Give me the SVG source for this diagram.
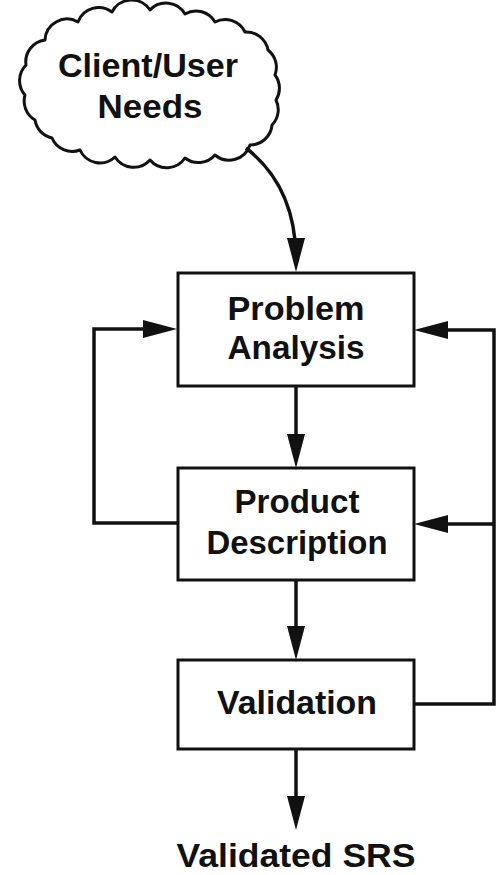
<svg xmlns="http://www.w3.org/2000/svg" width="498" height="875" viewBox="0 0 498 875">
  <style>
    .bg { fill: #ffffff; }
    .box { fill: #ffffff; stroke: #111111; stroke-width: 3; }
    .cloud { fill: #ffffff; stroke: #111111; stroke-width: 3; stroke-linejoin: round; }
    .label { font-family: "Liberation Sans", Arial, Helvetica, sans-serif; font-weight: bold; font-size: 33px; fill: #111111; text-anchor: middle; }
    .wire { fill: none; stroke: #111111; stroke-width: 3.5; stroke-linejoin: miter; }
  </style>
  <defs>
    <marker id="arrow" markerUnits="userSpaceOnUse" markerWidth="34" markerHeight="18" refX="22" refY="9" orient="auto" overflow="visible">
      <path d="M0,0 L34,9 L0,18 Z" fill="#111111"/>
    </marker>
  </defs>

  <rect class="bg" x="0" y="0" width="498" height="875"/>

  <!-- source: client/user needs -->
  <g id="needs">
    <path class="cloud" d="M45,40 A22,22 0 0 1 78,22 A22,22 0 0 1 112,12 A22,22 0 0 1 150,10 A22,22 0 0 1 185,14 A22,22 0 0 1 215,22 A22,22 0 0 1 245,32 A22,22 0 0 1 268,50 A22,22 0 0 1 275,75 A22,22 0 0 1 276,100 A22,22 0 0 1 272,125 A22,22 0 0 1 250,145 A22,22 0 0 1 215,155 A22,22 0 0 1 185,158 A22,22 0 0 1 150,160 A22,22 0 0 1 115,157 A22,22 0 0 1 80,150 A22,22 0 0 1 52,138 A22,22 0 0 1 35,120 A22,22 0 0 1 25,95 A22,22 0 0 1 26,65 A22,22 0 0 1 45,40 Z"/>
    <text class="label" x="148" y="77" textLength="180" lengthAdjust="spacingAndGlyphs">Client/User</text>
    <text class="label" x="150" y="118" textLength="105" lengthAdjust="spacingAndGlyphs">Needs</text>
  </g>

  <g id="problem-analysis">
    <rect class="box" x="178" y="273" width="236" height="113"/>
    <text class="label" x="296" y="320" textLength="137" lengthAdjust="spacingAndGlyphs">Problem</text>
    <text class="label" x="296" y="359" textLength="137" lengthAdjust="spacingAndGlyphs">Analysis</text>
  </g>

  <g id="product-description">
    <rect class="box" x="178" y="468" width="236" height="112"/>
    <text class="label" x="297" y="513" textLength="125" lengthAdjust="spacingAndGlyphs">Product</text>
    <text class="label" x="297" y="554" textLength="181" lengthAdjust="spacingAndGlyphs">Description</text>
  </g>

  <g id="validation">
    <rect class="box" x="178" y="660" width="236" height="89"/>
    <text class="label" x="297" y="714" textLength="160" lengthAdjust="spacingAndGlyphs">Validation</text>
  </g>

  <g id="validated-srs">
    <text class="label" x="296" y="867" textLength="239" lengthAdjust="spacingAndGlyphs">Validated SRS</text>
  </g>

  <g id="connectors">
    <path class="wire" d="M246,148 C282,176 296,214 296,260" marker-end="url(#arrow)"/>
    <path class="wire" d="M296,386 L296,456" marker-end="url(#arrow)"/>
    <path class="wire" d="M296,580 L296,648" marker-end="url(#arrow)"/>
    <path class="wire" d="M296,749 L296,818" marker-end="url(#arrow)"/>
    <!-- feedback: product description back to problem analysis -->
    <path class="wire" d="M178,523 L94,523 L94,329 L165,329" marker-end="url(#arrow)"/>
    <!-- feedback: validation back to both earlier stages -->
    <path class="wire" d="M414,704 L494,704 L494,330 L426,330" marker-end="url(#arrow)"/>
    <path class="wire" d="M494,524 L426,524" marker-end="url(#arrow)"/>
  </g>
</svg>
